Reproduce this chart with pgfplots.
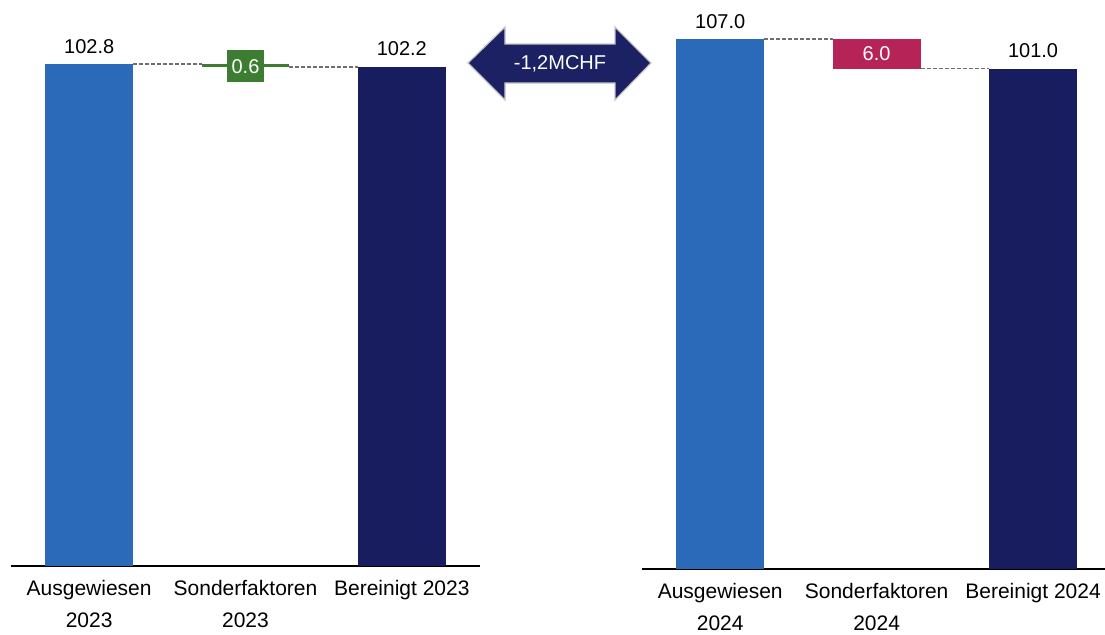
\documentclass[border=0pt]{standalone}
\usepackage{pgfplots}
\pgfplotsset{compat=1.18}
\usepackage{fontspec}
\setmainfont{Liberation Sans}
\definecolor{cblue}{HTML}{2A6AB8}
\definecolor{cnavy}{HTML}{171D5E}
\definecolor{cgreen}{HTML}{3D7D32}
\definecolor{cred}{HTML}{B52357}
\definecolor{carrow}{HTML}{1B2163}
\definecolor{cdash}{HTML}{6F6F6F}
\pgfplotsset{wf/.style={
  scale only axis, clip=false,
  xmin=-0.5, ymin=0, ymax=110,
  axis x line=bottom, axis y line=none,
  x axis line style={-, black, line width=0.75pt},
  xtick={0,1,2}, major tick length=0pt, ytick=\empty,
  xticklabel style={font=\fontsize{10.5}{16}\selectfont, align=center, yshift=-3.8pt},
  /pgf/number format/assume math mode=true,
  every node/.append style={font=\fontsize{10.5}{12.6}\selectfont},
  fullbar/.style={ybar, bar width=44pt, bar shift=0pt, draw=none},
  conn/.style={cdash, line width=0.6pt, dash pattern=on 2pt off 1pt, mark=none},
}}
\begin{document}
\begin{tikzpicture}
\useasboundingbox (0,0) rectangle (552.5pt,-317pt);
% left waterfall 2023
\begin{axis}[wf, at={(5.5pt,-283pt)}, anchor=south west,
  width=234.5pt, height=268.57pt, xmax=2.5,
  xticklabels={{Ausgewiesen\\2023},{Sonderfaktoren\\2023},{Bereinigt 2023}}]
\addplot[fullbar, fill=cblue] coordinates {(0,102.8)};
\addplot[fullbar, fill=cnavy] coordinates {(2,102.2)};
\addplot[fill=cgreen, draw=none] coordinates {(0.719,102.2) (1.281,102.2) (1.281,102.8) (0.719,102.8)} -- cycle;
\addplot[conn] coordinates {(0.281,102.8) (0.719,102.8)};
\addplot[conn] coordinates {(1.281,102.2) (1.719,102.2)};
\node[anchor=base, yshift=5.5pt] at (axis cs:0,102.8) {102.8};
\node[anchor=base, yshift=5.5pt] at (axis cs:2,102.2) {102.2};
\node[fill=cgreen, text=white, minimum width=18.5pt, minimum height=16pt, inner sep=1pt] at (axis cs:1,102.3) {0.6};
\end{axis}
% right waterfall 2024
\begin{axis}[wf, at={(321pt,-284.5pt)}, anchor=south west,
  width=231.5pt, height=272.4pt, xmax=2.46,
  xticklabels={{Ausgewiesen\\2024},{Sonderfaktoren\\2024},{Bereinigt 2024}}]
\addplot[fullbar, fill=cblue] coordinates {(0,107.0)};
\addplot[fullbar, fill=cnavy] coordinates {(2,101.0)};
\addplot[fill=cred, draw=none] coordinates {(0.719,101.0) (1.281,101.0) (1.281,107.0) (0.719,107.0)} -- cycle;
\addplot[conn] coordinates {(0.281,107.0) (0.719,107.0)};
\addplot[conn] coordinates {(1.281,101.0) (1.719,101.0)};
\node[anchor=base, yshift=5.5pt] at (axis cs:0,107.0) {107.0};
\node[anchor=base, yshift=5.5pt] at (axis cs:2,101.0) {101.0};
\node[text=white] at (axis cs:1,104.0) {6.0};
\end{axis}
% double arrow
\begin{scope}[x=0.5pt, y=-0.5pt]
\filldraw[fill=carrow, draw=gray!45, line width=0.6pt] (468,63) -- (505,27) -- (505,44) -- (615,44) -- (615,27) -- (651,63) -- (615,100) -- (615,83) -- (505,83) -- (505,100) -- cycle;
\node[text=white, font=\fontsize{10}{12}\selectfont] at (560,64) {-1,2MCHF};
\end{scope}
\end{tikzpicture}
\end{document}
